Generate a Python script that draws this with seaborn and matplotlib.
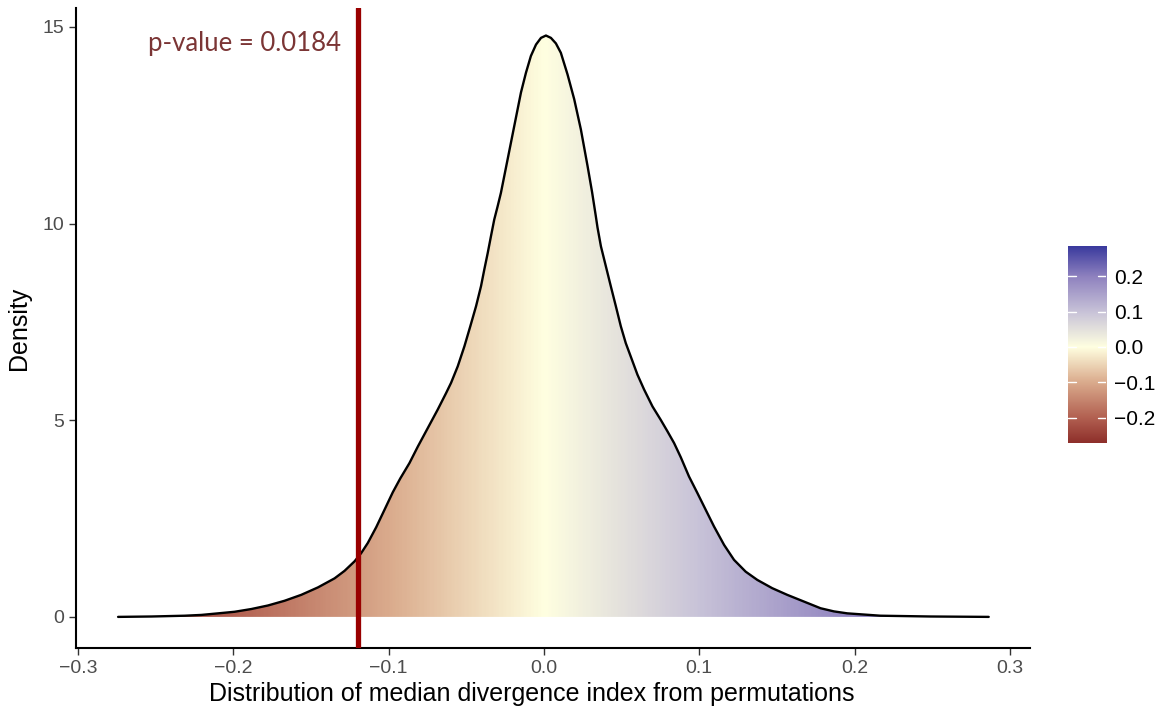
import numpy as np
import matplotlib
matplotlib.use("Agg")
import matplotlib.pyplot as plt
from matplotlib.colors import LinearSegmentedColormap, Normalize
from matplotlib.patches import PathPatch
import seaborn as sns

# ---- data ----
curve_x = [-0.2742, -0.2527, -0.2313, -0.2206, -0.2098, -0.1992, -0.1884, -0.1777, -0.1670, -0.1563,
           -0.1455, -0.1348, -0.1284, -0.1220, -0.1177, -0.1134, -0.1080, -0.1027, -0.0973, -0.0925,
           -0.0866, -0.0812, -0.0748, -0.0684, -0.0630, -0.0598, -0.0555, -0.0512, -0.0474, -0.0437,
           -0.0405, -0.0384, -0.0362, -0.0341, -0.0320, -0.0298, -0.0277, -0.0234, -0.0191, -0.0148,
           -0.0116, -0.0084, -0.0051, -0.0019, 0.0013, 0.0045, 0.0077, 0.0109, 0.0152, 0.0195,
           0.0238, 0.0281, 0.0310, 0.0334, 0.0345, 0.0367, 0.0399, 0.0431, 0.0463, 0.0495,
           0.0527, 0.0559, 0.0602, 0.0645, 0.0699, 0.0752, 0.0795, 0.0838, 0.0881, 0.0934,
           0.0988, 0.1042, 0.1095, 0.1160, 0.1224, 0.1299, 0.1374, 0.1470, 0.1567, 0.1674,
           0.1781, 0.1867, 0.1953, 0.2167, 0.2490, 0.2864]
curve_y = [0.00, 0.01, 0.03, 0.05, 0.09, 0.13, 0.20, 0.29, 0.41, 0.56,
           0.75, 0.98, 1.17, 1.41, 1.62, 1.88, 2.28, 2.72, 3.17, 3.52,
           3.91, 4.33, 4.80, 5.27, 5.69, 5.95, 6.37, 6.88, 7.39, 7.90,
           8.41, 8.83, 9.25, 9.68, 10.10, 10.44, 10.78, 11.63, 12.48, 13.33,
           13.83, 14.26, 14.55, 14.72, 14.78, 14.72, 14.58, 14.34, 13.79, 13.16,
           12.39, 11.46, 10.80, 10.19, 9.90, 9.42, 8.91, 8.40, 7.90, 7.39,
           6.96, 6.62, 6.16, 5.78, 5.35, 5.01, 4.72, 4.42, 4.06, 3.57,
           3.15, 2.72, 2.30, 1.83, 1.45, 1.15, 0.94, 0.73, 0.56, 0.39,
           0.22, 0.14, 0.09, 0.03, 0.01, 0.00]
observed_value = -0.12
p_label = "p-value = 0.0184"
x_ticks = [-0.3, -0.2, -0.1, 0.0, 0.1, 0.2, 0.3]
y_ticks = [0, 5, 10, 15]
cbar_ticks = [-0.2, -0.1, 0.0, 0.1, 0.2]
fill_min, fill_max = -0.272, 0.286

# ---- style ----
sns.set_style("white")
plt.rcParams['font.family'] = ['Liberation Sans', 'DejaVu Sans']

cmap = LinearSegmentedColormap.from_list(
    "divmap",
    [(0.0, (0.53, 0.15, 0.14)),
     (0.15, (0.70, 0.38, 0.32)),
     (0.33, (0.86, 0.68, 0.56)),
     (0.5, (1.0, 1.0, 0.88)),
     (0.67, (0.79, 0.77, 0.85)),
     (0.85, (0.56, 0.51, 0.75)),
     (1.0, (0.23, 0.23, 0.62))])
lim = max(abs(fill_min), abs(fill_max))
norm = Normalize(-lim, lim)

fig = plt.figure(figsize=(11.64, 7.07), dpi=100)
ax = fig.add_axes([0.0653, 0.0835, 0.8196, 0.9052])

# gradient fill under the density curve
poly = ax.fill_between(curve_x, 0, curve_y, facecolor='none', edgecolor='none')
patch = PathPatch(poly.get_paths()[0], transform=ax.transData,
                  facecolor='none', edgecolor='none')
ax.add_patch(patch)
grad = np.linspace(fill_min, fill_max, 600).reshape(1, -1)
img = ax.imshow(grad, extent=[fill_min, fill_max, 0, 15], aspect='auto',
                cmap=cmap, norm=norm, origin='lower', interpolation='bilinear', zorder=1)
img.set_clip_path(patch)

sns.lineplot(x=curve_x, y=curve_y, color='black', lw=1.7, sort=False, ax=ax, zorder=3)
ax.axvline(observed_value, color='#990000', lw=3.8, zorder=4)
ax.text(-0.1305, 14.58, p_label, ha='right', va='center', fontsize=18.5,
        color='#7B3535', family=['Lato', 'DejaVu Sans'])

ax.set_xlim(-0.3013, 0.313)
ax.set_ylim(-0.79, 15.48)
ax.set_xticks(x_ticks)
ax.set_xticklabels([f"{t:.1f}".replace("-", "\u2212") for t in x_ticks])
ax.set_yticks(y_ticks)
ax.tick_params(axis='both', which='both', direction='out', length=5, width=1,
               color='#333333', labelcolor='#4D4D4D', labelsize=14,
               bottom=True, left=True)
for s in ['top', 'right']:
    ax.spines[s].set_visible(False)
for s in ['left', 'bottom']:
    ax.spines[s].set_color('black')
    ax.spines[s].set_linewidth(1.5)
ax.set_xlabel("Distribution of median divergence index from permutations",
              fontsize=18, color='black')
ax.xaxis.set_label_coords(0.478, -0.053)
ax.set_ylabel("Density", fontsize=18, color='black', labelpad=8)

# colour bar
cax = fig.add_axes([0.9175, 0.3734, 0.03265, 0.2786])
cgrad = np.linspace(fill_min, fill_max, 400).reshape(-1, 1)
cax.imshow(cgrad, extent=[0, 1, fill_min, fill_max], aspect='auto', cmap=cmap,
           norm=norm, origin='lower', interpolation='bilinear')
cax.set_xlim(0, 1)
cax.set_ylim(fill_min, fill_max)
cax.set_xticks([])
cax.set_yticks(cbar_ticks)
cax.set_yticklabels([f"{t:.1f}".replace("-", "\u2212") for t in cbar_ticks])
cax.yaxis.tick_right()
cax.tick_params(axis='y', direction='in', length=0, labelsize=15, labelcolor='black', pad=6)
for t in cbar_ticks:
    cax.plot([0, 0.2], [t, t], color='white', lw=1)
    cax.plot([0.8, 1], [t, t], color='white', lw=1)
for s in cax.spines.values():
    s.set_visible(False)

fig.savefig("out.png", dpi=100)
